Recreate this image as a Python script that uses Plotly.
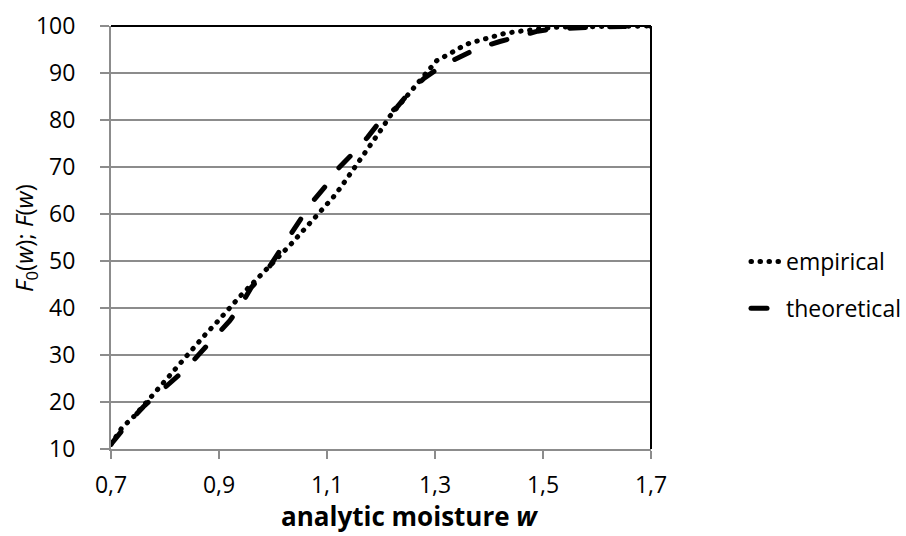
import plotly.graph_objects as go

# empirical distribution F0(w)
emp_w = [0.70, 0.72, 0.744, 0.765, 0.789, 0.804, 0.819, 0.833, 0.848, 0.863, 0.878, 0.894,
         0.909, 0.925, 0.940, 0.956, 0.972, 0.988, 1.004, 1.019, 1.035, 1.050, 1.065, 1.081,
         1.096, 1.111, 1.125, 1.137, 1.151, 1.164, 1.177, 1.190, 1.203, 1.215, 1.230, 1.243,
         1.265, 1.287, 1.303, 1.329, 1.343, 1.363, 1.385, 1.407, 1.428, 1.451, 1.473, 1.494,
         1.518, 1.55, 1.60, 1.65, 1.70]
emp_F = [11.0, 14.5, 17.1, 20.0, 23.0, 25.0, 27.0, 28.9, 30.9, 32.8, 34.8, 36.7,
         38.7, 40.7, 42.6, 44.5, 46.3, 48.2, 50.1, 51.9, 53.8, 55.7, 57.6, 59.5,
         61.5, 63.5, 65.6, 67.5, 70.0, 72.1, 74.1, 76.3, 78.4, 80.6, 82.6, 84.6,
         87.6, 90.6, 92.6, 94.2, 95.2, 96.3, 97.1, 97.9, 98.4, 98.8, 99.1, 99.5,
         99.7, 99.8, 99.9, 99.9, 100.0]

# theoretical distribution F(w)
th_w = [0.70, 0.73, 0.76, 0.78, 0.81, 0.84, 0.865, 0.89, 0.92, 0.94, 0.96, 0.99,
        1.01, 1.03, 1.05, 1.07, 1.10, 1.12, 1.15, 1.175, 1.20, 1.23, 1.255, 1.28,
        1.315, 1.345, 1.38, 1.42, 1.46, 1.49, 1.52, 1.55, 1.60, 1.65, 1.70]
th_F = [11.0, 15.3, 19.0, 21.1, 24.1, 27.2, 30.4, 33.6, 37.3, 40.5, 44.4, 48.2,
        51.8, 55.2, 58.7, 62.2, 66.3, 69.6, 73.1, 76.3, 80.0, 82.8, 86.2, 88.9,
        91.7, 93.5, 95.3, 96.7, 98.1, 98.9, 99.4, 99.6, 99.8, 99.9, 100.0]

x_ticks = [0.7, 0.9, 1.1, 1.3, 1.5, 1.7]
y_ticks = [10, 20, 30, 40, 50, 60, 70, 80, 90, 100]

FONT = "Open Sans"
GRID = "#8c8c8c"

fig = go.Figure()
fig.add_trace(go.Scatter(x=emp_w, y=emp_F, mode="lines", name="empirical",
                         legendgroup="a",
                         line=dict(color="black", width=5, dash="0.5px,8.5px")))
fig.add_trace(go.Scatter(x=th_w, y=th_F, mode="lines", name="theoretical",
                         legendgroup="b",
                         line=dict(color="black", width=5, dash="16px,24px")))

fig.update_layout(
    width=906, height=536,
    autosize=False,
    margin=dict(l=111, r=255, t=26, b=87, autoexpand=False),
    paper_bgcolor="white", plot_bgcolor="white",
    separators=", ",
    font=dict(family=FONT, size=23, color="black"),
    showlegend=True,
    legend=dict(xref="container", yref="container",
                x=746 / 906, xanchor="left", y=(536 - 285) / 536, yanchor="middle",
                font=dict(family=FONT, size=23, color="black"),
                tracegroupgap=14, bgcolor="rgba(0,0,0,0)"),
    xaxis=dict(range=[0.7, 1.7], tickvals=x_ticks, tickformat=".1f",
               showgrid=False, zeroline=False,
               showline=True, linecolor=GRID, linewidth=2,
               ticks="outside", ticklen=8, tickcolor=GRID, tickwidth=2,
               ticklabelstandoff=6,
               tickfont=dict(family=FONT, size=23, color="black")),
    yaxis=dict(range=[10, 100], tickvals=y_ticks,
               showgrid=True, gridcolor=GRID, gridwidth=2, zeroline=False,
               showline=True, linecolor=GRID, linewidth=2,
               ticks="outside", ticklen=9, tickcolor=GRID, tickwidth=2,
               ticklabelstandoff=20,
               tickfont=dict(family=FONT, size=23, color="black")),
    shapes=[
        dict(type="line", xref="paper", yref="paper", x0=0, x1=1, y0=1, y1=1,
             line=dict(color="black", width=2)),
        dict(type="line", xref="paper", yref="paper", x0=1, x1=1, y0=0, y1=1,
             line=dict(color="black", width=2)),
    ],
    annotations=[
        dict(text="<b>analytic moisture <i>w</i></b>", xref="paper", yref="paper",
             x=(409 - 111) / 540, y=-(516 - 449) / 423, xanchor="center", yanchor="middle",
             showarrow=False, font=dict(family=FONT, size=26, color="black")),
        dict(text="<i>F</i><sub>0</sub>(<i>w</i>); <i>F</i>(<i>w</i>)", xref="paper", yref="paper",
             x=-(111 - 25) / 540, y=(449 - 238) / 423, xanchor="center", yanchor="middle",
             textangle=-90, showarrow=False, font=dict(family=FONT, size=24, color="black")),
    ],
)

css = ("document.body.style.margin='0';"
       "var s=document.createElement('style');"
       "s.textContent='html,body{margin:0;padding:0;overflow:hidden;} path.js-line{stroke-linecap:round;}';"
       "document.head.appendChild(s);")
fig.write_html("out.html", post_script=css, config={"displayModeBar": False})
